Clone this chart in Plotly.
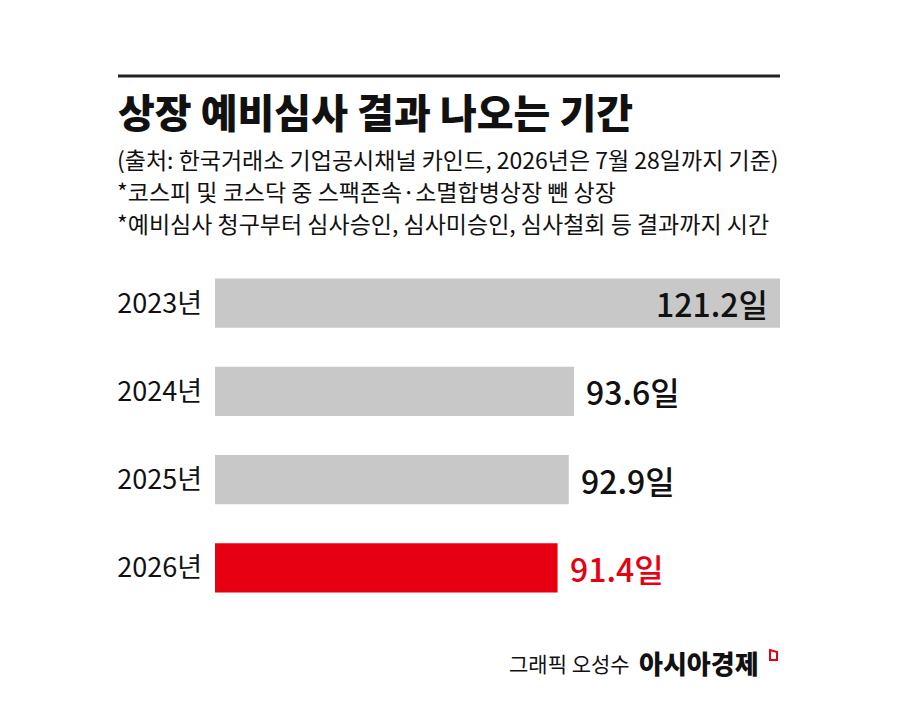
import plotly.graph_objects as go

# data
years = ["2023년", "2024년", "2025년", "2026년"]
days = [121.2, 93.6, 92.9, 91.4]
bar_colors = ["#c8c8c8", "#c8c8c8", "#c8c8c8", "#e60012"]
label_colors = ["#111111", "#111111", "#111111", "#e60012"]

title = "상장 예비심사 결과 나오는 기간"
notes = [
    "(출처: 한국거래소 기업공시채널 카인드, 2026년은 7월 28일까지 기준)",
    "*코스피 및 코스닥 중 스팩존속·소멸합병상장 뺀 상장",
    "*예비심사 청구부터 심사승인, 심사미승인, 심사철회 등 결과까지 시간",
]
credit = "그래픽 오성수"
brand = "아시아경제"

FONT = "Noto Sans CJK KR"
W, H = 900, 709
# page offset of the figure inside the browser window
OX, OY = 8, 7
# plot area in reference pixels
PL, PR, PT, PB = 215, 780, 258, 611
L, R, T, B = PL - OX, W - (PR - OX), PT - OY, H - (PB - OY)


def px(x):
    """reference pixel x -> paper x"""
    return (x - PL) / (PR - PL)


def py(y):
    """reference pixel y -> paper y"""
    return (PB - y) / (PB - PT)


fig = go.Figure(go.Bar(
    x=days, y=years, orientation="h",
    marker=dict(color=bar_colors, line=dict(width=0)),
    width=0.56, hoverinfo="skip",
))

# value labels
for i, (yr, v) in enumerate(zip(years, days)):
    inside = i == 0
    fig.add_annotation(
        x=v, y=yr, xref="x", yref="y",
        text=f"{v}일", showarrow=False,
        xanchor="right" if inside else "left",
        xshift=-10 if inside else 10,
        font=dict(family=FONT, size=32, weight=500, color=label_colors[i]),
    )

# top rule
fig.add_shape(type="line", xref="paper", yref="paper",
              x0=px(118), x1=px(780), y0=py(75), y1=py(75),
              line=dict(color="#222222", width=3))

fig.add_annotation(x=px(116), y=py(110), xref="paper", yref="paper",
                   text=title, showarrow=False,
                   xanchor="left", yanchor="middle",
                   font=dict(family=FONT, size=40, weight=900, color="#111111"))

for txt, yy in zip(notes, [158, 190, 222]):
    fig.add_annotation(x=px(115), y=py(yy), xref="paper", yref="paper",
                       text=txt, showarrow=False,
                       xanchor="left", yanchor="middle",
                       font=dict(family=FONT, size=23, color="#111111"))

# footer
fig.add_annotation(x=px(632), y=py(662), xref="paper", yref="paper",
                   text=credit, showarrow=False,
                   xanchor="right", yanchor="middle",
                   font=dict(family=FONT, size=21, color="#111111"))
fig.add_annotation(x=px(637), y=py(661), xref="paper", yref="paper",
                   text=brand, showarrow=False,
                   xanchor="left", yanchor="middle",
                   font=dict(family=FONT, size=26, weight=900, color="#111111"))
fig.add_shape(type="path", xref="paper", yref="paper",
              path=(f"M {px(770)},{py(649)} L {px(777)},{py(651)} "
                    f"L {px(777)},{py(659)} L {px(770)},{py(659)} Z"),
              line=dict(color="#e60012", width=2))

fig.update_layout(
    width=W, height=H,
    margin=dict(l=L, r=R, t=T, b=B),
    paper_bgcolor="white", plot_bgcolor="white",
    showlegend=False,
    font=dict(family=FONT, color="#111111"),
    xaxis=dict(range=[45.5, 121.2], visible=False, fixedrange=True),
    yaxis=dict(range=[3.5, -0.5], showgrid=False, zeroline=False,
               showline=False, ticks="", ticklabelstandoff=12,
               tickfont=dict(family=FONT, size=27, color="#111111")),
)

fig.write_html("out.html")
